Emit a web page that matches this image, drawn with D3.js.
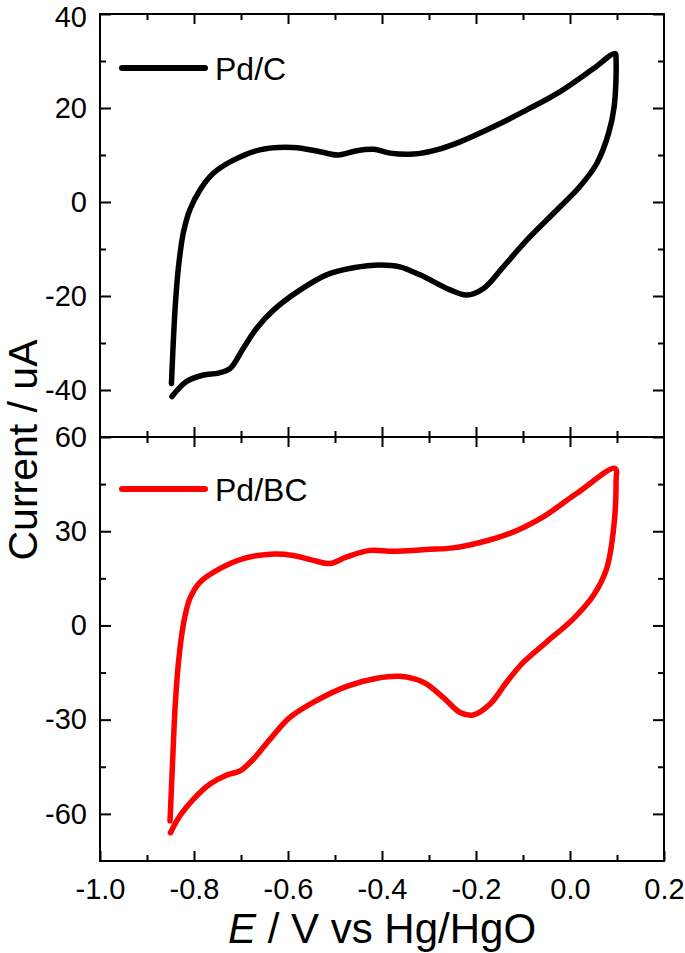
<!DOCTYPE html>
<html>
<head>
<meta charset="utf-8">
<script src="https://cdn.jsdelivr.net/npm/d3@7"></script>
<style>
  body { margin: 0; background: #fff; }
  text { font-family: Arial, "Liberation Sans", sans-serif; fill: #000; }
</style>
</head>
<body>
<div id="chart"></div>
<script>
// Pd/C cyclic voltammogram (potential in V, current in uA)
const pdcE = [-0.848, -0.840, -0.833, -0.823, -0.809, -0.787, -0.759, -0.716, -0.660, -0.589,
  -0.532, -0.493, -0.454, -0.418, -0.383, -0.333, -0.284, -0.234, -0.163, -0.092, -0.021, 0.050, 0.096,
  0.098, 0.094, 0.082, 0.057, 0.021, -0.028, -0.092, -0.142, -0.184, -0.220, -0.255, -0.319, -0.362,
  -0.404, -0.461, -0.518, -0.574, -0.631, -0.667, -0.695, -0.723, -0.748, -0.780, -0.816, -0.847];
const pdcI = [-38.6, -22.3, -13.8, -6.7, -1.7, 2.6, 6.1, 8.9, 11.1, 11.6,
  10.7, 10.0, 10.9, 11.2, 10.4, 10.2, 11.1, 12.8, 16.0, 19.6, 23.5, 28.4, 31.6,
  30.2, 20.3, 14.6, 8.2, 3.3, -1.7, -8.1, -13.8, -18.4, -19.8, -18.7, -15.5, -13.8,
  -13.4, -14.0, -15.5, -18.7, -23.0, -26.9, -31.1, -35.4, -36.4, -36.8, -38.2, -41.4];

// Pd/BC cyclic voltammogram
const pdbcE = [-0.851, -0.845, -0.840, -0.833, -0.823, -0.809, -0.787, -0.745, -0.695, -0.638,
  -0.589, -0.546, -0.511, -0.475, -0.426, -0.376, -0.305, -0.248, -0.191, -0.128, -0.057, 0.014, 0.096,
  0.098, 0.092, 0.078, 0.050, 0.007, -0.050, -0.099, -0.135, -0.170, -0.206, -0.234, -0.270, -0.312,
  -0.362, -0.411, -0.475, -0.539, -0.596, -0.638, -0.674, -0.702, -0.730, -0.766, -0.801, -0.830, -0.850];
const pdbcI = [-62.2, -41.5, -25.5, -11.7, 0.0, 8.5, 13.8, 18.1, 21.3, 22.7,
  22.3, 20.7, 19.7, 21.8, 23.9, 23.6, 24.2, 24.7, 26.4, 29.3, 34.6, 42.0, 50.0,
  45.7, 29.8, 18.1, 9.6, 2.1, -5.3, -11.7, -18.1, -25.0, -28.5, -27.7, -22.9, -18.1,
  -16.2, -16.8, -19.4, -23.9, -29.3, -36.2, -42.6, -46.3, -47.6, -50.5, -55.3, -60.6, -66.0];

const xMajor = [-1.0, -0.8, -0.6, -0.4, -0.2, 0.0, 0.2];
const xMinor = [-0.9, -0.7, -0.5, -0.3, -0.1, 0.1];
const topMajor = [40, 20, 0, -20, -40];
const topMinor = [30, 10, -10, -30];
const botMajor = [60, 30, 0, -30, -60];
const botMinor = [45, 15, -15, -45];

const width = 685, height = 953;
const left = 100, right = 664;

const svg = d3.select("#chart").append("svg")
  .attr("width", width)
  .attr("height", height);

const x = d3.scaleLinear().domain([-1.0, 0.2]).range([left, right]);

const panels = [
  { name: "Pd/C", color: "#000", E: pdcE, I: pdcI, y: d3.scaleLinear().domain([-50, 40]).range([437, 14]),
    major: topMajor, minor: topMinor, legendY: 68, bottomLabels: false },
  { name: "Pd/BC", color: "#ff0000", E: pdbcE, I: pdbcI, y: d3.scaleLinear().domain([-75, 60]).range([861, 437]),
    major: botMajor, minor: botMinor, legendY: 489, bottomLabels: true }
];

const fmt = (d) => d.toFixed(1).replace("\u2212", "-");

function styleAxis(g) {
  g.select(".domain").remove();
  g.selectAll("line").attr("stroke", "#000").attr("stroke-width", 2);
  g.selectAll("text").attr("font-size", 29).attr("fill", "#000")
    .attr("font-family", "Arial, 'Liberation Sans', sans-serif");
}

panels.forEach((p) => {
  const [y0, y1] = p.y.range();

  // curve
  svg.append("path")
    .datum(d3.zip(p.E, p.I))
    .attr("fill", "none")
    .attr("stroke", p.color)
    .attr("stroke-width", 5.5)
    .attr("stroke-linecap", "round")
    .attr("stroke-linejoin", "round")
    .attr("d", d3.line().x((d) => x(d[0])).y((d) => p.y(d[1])).curve(d3.curveCatmullRom.alpha(0.5)));

  // left axis
  const gl = svg.append("g").attr("transform", `translate(${left},0)`)
    .call(d3.axisLeft(p.y).tickValues(p.major).tickSizeInner(-11).tickSizeOuter(0).tickPadding(13)
      .tickFormat((d) => String(d).replace("\u2212", "-")))
    .call(styleAxis);
  // keep the topmost label inside the picture
  gl.selectAll("text").filter((d) => p.y(d) < 20).attr("y", 3);
  svg.append("g").attr("transform", `translate(${left},0)`)
    .call(d3.axisLeft(p.y).tickValues(p.minor).tickSizeInner(-6).tickSizeOuter(0).tickFormat(""))
    .call(styleAxis);

  // right axis
  svg.append("g").attr("transform", `translate(${right},0)`)
    .call(d3.axisRight(p.y).tickValues(p.major).tickSizeInner(-11).tickSizeOuter(0).tickFormat(""))
    .call(styleAxis);
  svg.append("g").attr("transform", `translate(${right},0)`)
    .call(d3.axisRight(p.y).tickValues(p.minor).tickSizeInner(-6).tickSizeOuter(0).tickFormat(""))
    .call(styleAxis);

  // top and bottom x ticks (inward)
  svg.append("g").attr("transform", `translate(0,${y1})`)
    .call(d3.axisTop(x).tickValues(xMajor.slice(1, -1)).tickSizeInner(-10).tickSizeOuter(0).tickFormat(""))
    .call(styleAxis);
  svg.append("g").attr("transform", `translate(0,${y1})`)
    .call(d3.axisTop(x).tickValues(xMinor).tickSizeInner(-6).tickSizeOuter(0).tickFormat(""))
    .call(styleAxis);
  svg.append("g").attr("transform", `translate(0,${y0})`)
    .call(d3.axisBottom(x).tickValues(p.bottomLabels ? xMajor : xMajor.slice(1, -1))
      .tickSizeInner(-10).tickSizeOuter(0).tickPadding(17)
      .tickFormat(p.bottomLabels ? fmt : ""))
    .call(styleAxis);
  svg.append("g").attr("transform", `translate(0,${y0})`)
    .call(d3.axisBottom(x).tickValues(xMinor).tickSizeInner(-6).tickSizeOuter(0).tickFormat(""))
    .call(styleAxis);

  // frame
  svg.append("rect")
    .attr("x", left).attr("y", y1)
    .attr("width", right - left).attr("height", y0 - y1)
    .attr("fill", "none").attr("stroke", "#000").attr("stroke-width", 2);

  // legend
  svg.append("line")
    .attr("x1", 122).attr("x2", 205)
    .attr("y1", p.legendY).attr("y2", p.legendY)
    .attr("stroke", p.color).attr("stroke-width", 6).attr("stroke-linecap", "round");
  svg.append("text")
    .attr("x", 215).attr("y", p.legendY + 12)
    .attr("font-size", 32)
    .text(p.name);
});

// axis titles
svg.append("text")
  .attr("transform", "translate(37,450) rotate(-90)")
  .attr("text-anchor", "middle")
  .attr("font-size", 41)
  .text("Current / uA");

const xt = svg.append("text")
  .attr("x", 382).attr("y", 943)
  .attr("text-anchor", "middle")
  .attr("font-size", 42);
xt.append("tspan").attr("font-style", "italic").text("E");
xt.append("tspan").text(" / V vs Hg/HgO");
</script>
</body>
</html>
